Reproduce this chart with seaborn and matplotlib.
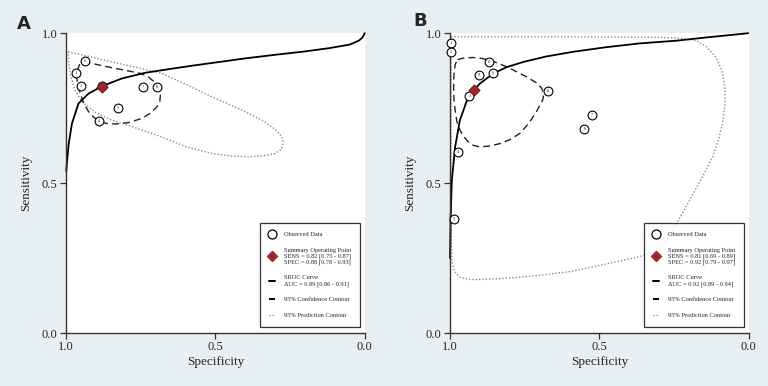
import matplotlib
matplotlib.use("Agg")
import matplotlib.pyplot as plt
import seaborn as sns
import pandas as pd
from matplotlib.lines import Line2D

# ---- panel A data (specificity, sensitivity) ----
a_study = ["6", "1", "2", "3", "7", "8", "5", "4"]
a_spec = [0.936, 0.967, 0.951, 0.880, 0.741, 0.695, 0.827, 0.889]
a_sens = [0.908, 0.868, 0.823, 0.823, 0.819, 0.821, 0.751, 0.708]
a_summary = (0.88, 0.82)
a_sroc_spec = [0.999, 0.997, 0.991, 0.980, 0.958, 0.924, 0.880, 0.813, 0.735,
               0.650, 0.568, 0.480, 0.400, 0.300, 0.210, 0.120, 0.050, 0.020,
               0.008, 0.0]
a_sroc_sens = [0.540, 0.565, 0.630, 0.699, 0.766, 0.799, 0.823, 0.849, 0.868,
               0.881, 0.893, 0.905, 0.916, 0.928, 0.938, 0.950, 0.962, 0.975,
               0.985, 1.0]
a_conf_spec = [0.941, 0.915, 0.890, 0.846, 0.800, 0.751, 0.725, 0.705, 0.690,
               0.684, 0.686, 0.696, 0.718, 0.746, 0.790, 0.835, 0.865, 0.885,
               0.905, 0.924, 0.940, 0.952, 0.960, 0.964, 0.962, 0.955, 0.941]
a_conf_sens = [0.907, 0.900, 0.894, 0.885, 0.876, 0.866, 0.855, 0.838, 0.815,
               0.793, 0.772, 0.754, 0.733, 0.716, 0.702, 0.697, 0.699, 0.706,
               0.718, 0.738, 0.765, 0.799, 0.825, 0.850, 0.875, 0.895, 0.907]
a_pred_spec = [0.993, 0.920, 0.850, 0.760, 0.679, 0.600, 0.512, 0.420, 0.344,
               0.300, 0.278, 0.272, 0.280, 0.300, 0.335, 0.389, 0.450, 0.512,
               0.600, 0.679, 0.760, 0.846, 0.900, 0.946, 0.970, 0.985, 0.991,
               0.993]
a_pred_sens = [0.938, 0.922, 0.905, 0.885, 0.866, 0.830, 0.788, 0.748, 0.710,
               0.680, 0.655, 0.635, 0.612, 0.599, 0.592, 0.588, 0.591, 0.599,
               0.622, 0.654, 0.682, 0.710, 0.735, 0.771, 0.810, 0.860, 0.905,
               0.938]
a_legend = ["Observed Data",
            "Summary Operating Point\nSENS = 0.82 [0.75 - 0.87]\nSPEC = 0.88 [0.78 - 0.93]",
            "SROC Curve\nAUC = 0.89 [0.86 - 0.91]",
            "95% Confidence Contour",
            "95% Prediction Contour"]

# ---- panel B data ----
b_study = ["1", "2", "3", "4", "5", "6", "7", "8", "9", "10", "11"]
b_spec = [0.998, 0.998, 0.935, 0.972, 0.987, 0.855, 0.524, 0.550, 0.904, 0.869, 0.673]
b_sens = [0.968, 0.936, 0.790, 0.603, 0.382, 0.866, 0.728, 0.681, 0.860, 0.904, 0.807]
b_summary = (0.92, 0.81)
b_sroc_spec = [1.0, 0.998, 0.994, 0.983, 0.967, 0.939, 0.900, 0.855, 0.810,
               0.755, 0.680, 0.588, 0.480, 0.365, 0.242, 0.141, 0.060, 0.002]
b_sroc_sens = [0.250, 0.388, 0.510, 0.621, 0.710, 0.788, 0.832, 0.866, 0.887,
               0.904, 0.922, 0.938, 0.953, 0.966, 0.975, 0.986, 0.994, 1.0]
b_conf_spec = [0.975, 0.950, 0.922, 0.895, 0.866, 0.810, 0.743, 0.710, 0.693,
               0.686, 0.690, 0.710, 0.736, 0.766, 0.800, 0.833, 0.866, 0.900,
               0.922, 0.939, 0.955, 0.967, 0.977, 0.983, 0.987, 0.988, 0.987,
               0.983, 0.975]
b_conf_sens = [0.912, 0.918, 0.919, 0.916, 0.910, 0.888, 0.854, 0.834, 0.816,
               0.797, 0.777, 0.740, 0.700, 0.666, 0.645, 0.632, 0.624, 0.621,
               0.626, 0.638, 0.656, 0.677, 0.705, 0.743, 0.780, 0.821, 0.860,
               0.895, 0.912]
b_pred_spec = [0.997, 0.800, 0.600, 0.400, 0.300, 0.220, 0.175, 0.141, 0.110,
               0.090, 0.080, 0.080, 0.088, 0.100, 0.120, 0.140, 0.164, 0.200,
               0.244, 0.280, 0.320, 0.365, 0.456, 0.521, 0.600, 0.699, 0.780,
               0.866, 0.931, 0.967, 0.985, 0.993, 0.996, 0.997, 0.997]
b_pred_sens = [0.988, 0.988, 0.988, 0.987, 0.986, 0.983, 0.975, 0.954, 0.920,
               0.875, 0.820, 0.760, 0.700, 0.650, 0.590, 0.550, 0.505, 0.440,
               0.360, 0.300, 0.270, 0.255, 0.235, 0.221, 0.205, 0.193, 0.185,
               0.180, 0.178, 0.186, 0.205, 0.240, 0.300, 0.500, 0.988]
b_legend = ["Observed Data",
            "Summary Operating Point\nSENS = 0.81 [0.69 - 0.89]\nSPEC = 0.92 [0.79 - 0.97]",
            "SROC Curve\nAUC = 0.92 [0.89 - 0.94]",
            "95% Confidence Contour",
            "95% Prediction Contour"]

BG = "#e8eff1"
RED = "#a0262c"
SERIF = "Liberation Serif"

sns.set_style("white")
plt.rcParams["font.family"] = [SERIF, "DejaVu Serif"]


def draw_panel(ax, study, spec, sens, summary, sroc_x, sroc_y,
               conf_x, conf_y, pred_x, pred_y, legend_labels):
    ax.set_facecolor("white")
    sns.lineplot(x=pred_x, y=pred_y, sort=False, estimator=None, ax=ax,
                 color="#8a8a8a", lw=1.0, linestyle=(0, (1, 1.4)), clip_on=False)
    sns.lineplot(x=conf_x, y=conf_y, sort=False, estimator=None, ax=ax,
                 color="#222222", lw=1.0, linestyle=(0, (5, 3)), clip_on=False)
    sns.lineplot(x=sroc_x, y=sroc_y, sort=False, estimator=None, ax=ax,
                 color="black", lw=1.3, clip_on=False)
    pts = pd.DataFrame({"spec": spec, "sens": sens, "study": study})
    sns.scatterplot(data=pts, x="spec", y="sens", ax=ax, s=40, marker="o",
                    facecolor="white", edgecolor="black", linewidth=0.8,
                    zorder=5, clip_on=False)
    for _, r in pts.iterrows():
        ax.text(r["spec"], r["sens"], r["study"], fontsize=3.2,
                ha="center", va="center", zorder=6)
    ax.scatter([summary[0]], [summary[1]], marker="D", s=34, color=RED,
               edgecolor="#6a1418", linewidth=0.5, zorder=7)

    ax.set_xlim(1, 0)
    ax.set_ylim(0, 1)
    ax.set_xticks([1.0, 0.5, 0.0])
    ax.set_yticks([0.0, 0.5, 1.0])
    ax.set_xticklabels(["1.0", "0.5", "0.0"])
    ax.set_yticklabels(["0.0", "0.5", "1.0"])
    ax.tick_params(axis="both", length=4, width=0.9, color="#333333",
                   labelsize=9, pad=2, direction="out", left=True, bottom=True)
    for s in ["top", "right"]:
        ax.spines[s].set_visible(False)
    for s in ["left", "bottom"]:
        ax.spines[s].set_color("#333333")
        ax.spines[s].set_linewidth(1.0)
    ax.set_xlabel("Specificity", fontsize=9.5, labelpad=2)
    ax.set_ylabel("Sensitivity", fontsize=9.5, labelpad=7)

    handles = [
        Line2D([], [], ls="none", marker="o", markersize=6.5,
               markerfacecolor="white", markeredgecolor="black", markeredgewidth=0.9),
        Line2D([], [], ls="none", marker="D", markersize=5.5, color=RED),
        Line2D([], [], color="black", lw=1.4),
        Line2D([], [], color="black", lw=1.4, linestyle=(0, (5, 3))),
        Line2D([], [], color="#8a8a8a", lw=0.9, linestyle=(0, (1, 1.4))),
    ]
    leg = ax.legend(handles, legend_labels, loc="lower right",
                    bbox_to_anchor=(0.985, 0.02), fontsize=4.6,
                    labelspacing=1.6, handlelength=1.0, handletextpad=1.4,
                    borderpad=1.4, borderaxespad=0, frameon=True,
                    fancybox=False, edgecolor="black")
    leg.get_frame().set_linewidth(0.9)


fig = plt.figure(figsize=(7.68, 3.86), dpi=100, facecolor=BG)
ax_a = fig.add_axes([0.0859, 0.137, 0.389, 0.777])
ax_b = fig.add_axes([0.586, 0.137, 0.389, 0.777])

draw_panel(ax_a, a_study, a_spec, a_sens, a_summary, a_sroc_spec, a_sroc_sens,
           a_conf_spec, a_conf_sens, a_pred_spec, a_pred_sens, a_legend)
draw_panel(ax_b, b_study, b_spec, b_sens, b_summary, b_sroc_spec, b_sroc_sens,
           b_conf_spec, b_conf_sens, b_pred_spec, b_pred_sens, b_legend)

fig.text(0.022, 0.96, "A", fontsize=13, fontweight="bold",
         family="DejaVu Sans", va="top", ha="left")
fig.text(0.538, 0.97, "B", fontsize=13, fontweight="bold",
         family="DejaVu Sans", va="top", ha="left")

fig.savefig("out.png", dpi=100, facecolor=BG)
